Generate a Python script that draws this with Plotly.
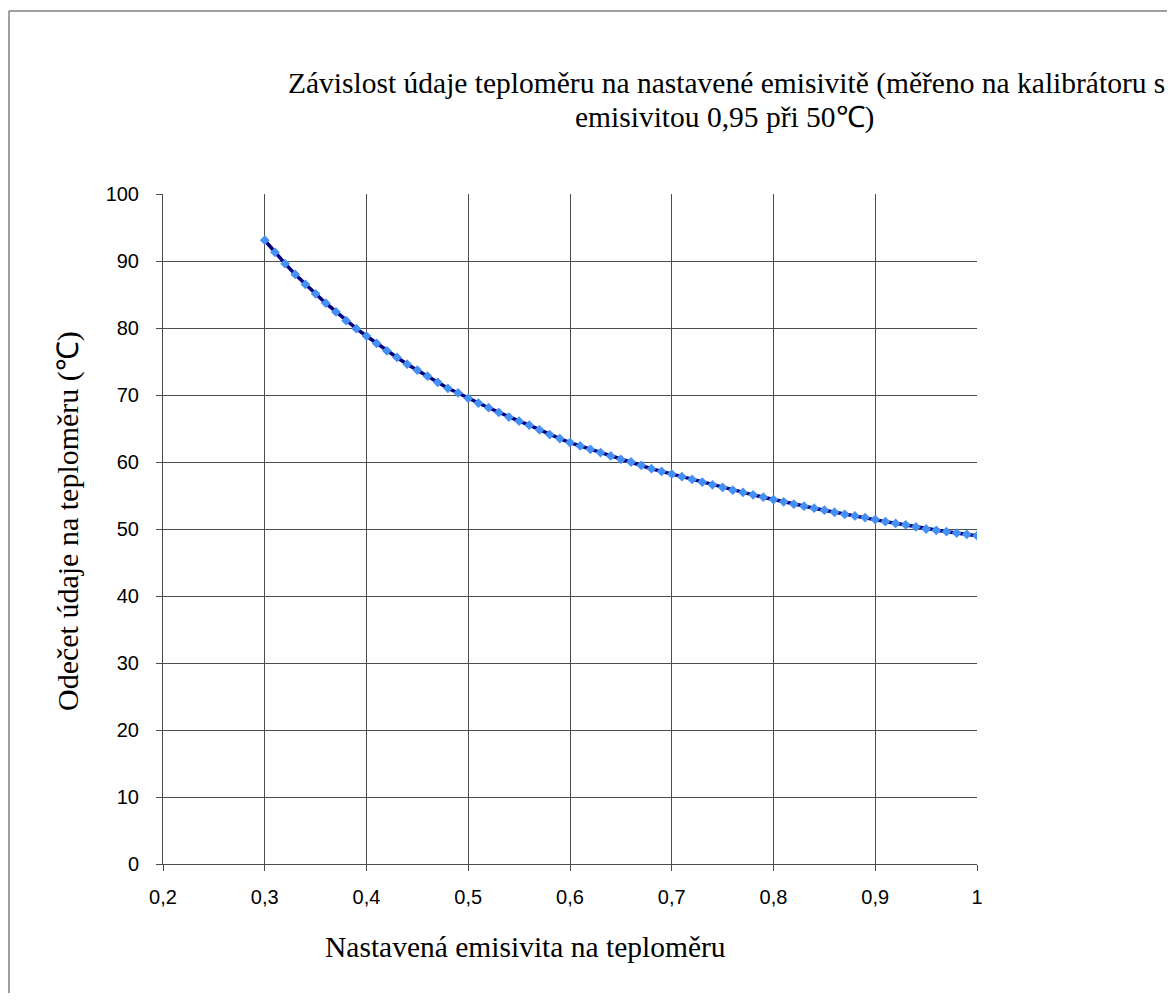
"""Thermometer reading vs. set emissivity (calibrator eps 0.95 at 50 C)."""

from __future__ import annotations

import plotly.graph_objects as go

EMISSIVITY = [
    0.30, 0.31, 0.32, 0.33, 0.34, 0.35, 0.36, 0.37, 0.38, 0.39,
    0.40, 0.41, 0.42, 0.43, 0.44, 0.45, 0.46, 0.47, 0.48, 0.49,
    0.50, 0.51, 0.52, 0.53, 0.54, 0.55, 0.56, 0.57, 0.58, 0.59,
    0.60, 0.61, 0.62, 0.63, 0.64, 0.65, 0.66, 0.67, 0.68, 0.69,
    0.70, 0.71, 0.72, 0.73, 0.74, 0.75, 0.76, 0.77, 0.78, 0.79,
    0.80, 0.81, 0.82, 0.83, 0.84, 0.85, 0.86, 0.87, 0.88, 0.89,
    0.90, 0.91, 0.92, 0.93, 0.94, 0.95, 0.96, 0.97, 0.98, 0.99,
    1.00,
]

READING_C = [
    93.1, 91.3, 89.6, 88.0, 86.5, 85.1, 83.7, 82.4, 81.1, 79.9,
    78.8, 77.7, 76.6, 75.6, 74.6, 73.7, 72.8, 71.9, 71.0, 70.3,
    69.5, 68.8, 68.1, 67.4, 66.7, 66.1, 65.5, 64.8, 64.1, 63.5,
    62.9, 62.4, 61.9, 61.4, 60.9, 60.4, 60.0, 59.5, 59.0, 58.6,
    58.2, 57.8, 57.4, 57.0, 56.6, 56.2, 55.8, 55.45, 55.1, 54.75,
    54.4, 54.05, 53.7, 53.4, 53.1, 52.8, 52.5, 52.2, 51.95, 51.7,
    51.4, 51.1, 50.85, 50.6, 50.3, 50.0, 49.8, 49.6, 49.4, 49.2,
    49.0,
]

TITLE_LINES = [
    "Závislost údaje teploměru na nastavené emisivitě (měřeno na kalibrátoru s",
    "emisivitou 0,95 při 50℃)",
]
X_TITLE = "Nastavená emisivita na teploměru"
Y_TITLE = "Odečet údaje na teploměru (℃)"

# page body adds an 8px offset, so the figure is 16px smaller than the window
W, H = 1159, 985
L, R, T, B = 155, 190, 186, 129

SERIF = "Liberation Serif, Times New Roman, serif"
SANS = "Liberation Sans, Arial, sans-serif"
GRID = "#4d4d4d"
TEXT_SIZE = 29.5


def px_to_paper_x(px: float) -> float:
    return (px - L) / (W - L - R)


def px_to_paper_y(py: float) -> float:
    return (H - B - py) / (H - T - B)


def add_text(text: str, px: float, py: float, angle: float = 0, size: float = TEXT_SIZE) -> None:
    fig.add_annotation(
        text=text,
        x=px_to_paper_x(px), y=px_to_paper_y(py),
        xref="paper", yref="paper", xanchor="center", yanchor="middle",
        showarrow=False, textangle=angle,
        font={"family": SERIF, "size": size, "color": "#000000"},
    )


fig = go.Figure()
fig.add_trace(
    go.Scatter(
        x=EMISSIVITY,
        y=READING_C,
        mode="lines+markers",
        line={"color": "#000080", "width": 3.5},
        marker={"symbol": "diamond", "size": 7.5, "color": "#4590f5"},
        showlegend=False,
    )
)

axis_common = dict(
    showgrid=True,
    gridcolor=GRID,
    gridwidth=1,
    showline=True,
    linecolor=GRID,
    linewidth=1,
    ticks="outside",
    ticklen=6,
    tickcolor=GRID,
    tickfont={"family": SANS, "size": 20, "color": "#000000"},
    zeroline=False,
)

fig.update_xaxes(range=[0.2, 1.0], dtick=0.1, tick0=0.2, ticklabelstandoff=9, **axis_common)
fig.update_yaxes(range=[0, 100], dtick=10, ticklabelstandoff=13, **axis_common)

add_text(TITLE_LINES[0], 718, 76)
add_text(TITLE_LINES[1], 716, 110)
add_text(X_TITLE, 517, 939)
add_text(Y_TITLE, 60, 513, angle=-90, size=30)

# outer chart-area frame (left and top edges visible in the source)
border = {"color": "#7f7f7f", "width": 1.5}
fig.add_shape(
    type="line", xref="paper", yref="paper",
    x0=px_to_paper_x(1), y0=px_to_paper_y(3),
    x1=px_to_paper_x(1), y1=px_to_paper_y(H),
    line=border,
)
fig.add_shape(
    type="line", xref="paper", yref="paper",
    x0=px_to_paper_x(1), y0=px_to_paper_y(3),
    x1=px_to_paper_x(W), y1=px_to_paper_y(3),
    line=border,
)

fig.update_layout(
    width=W,
    height=H,
    margin={"l": L, "r": R, "t": T, "b": B},
    separators=", ",
    plot_bgcolor="#ffffff",
    paper_bgcolor="#ffffff",
)

fig.write_html("out.html")
